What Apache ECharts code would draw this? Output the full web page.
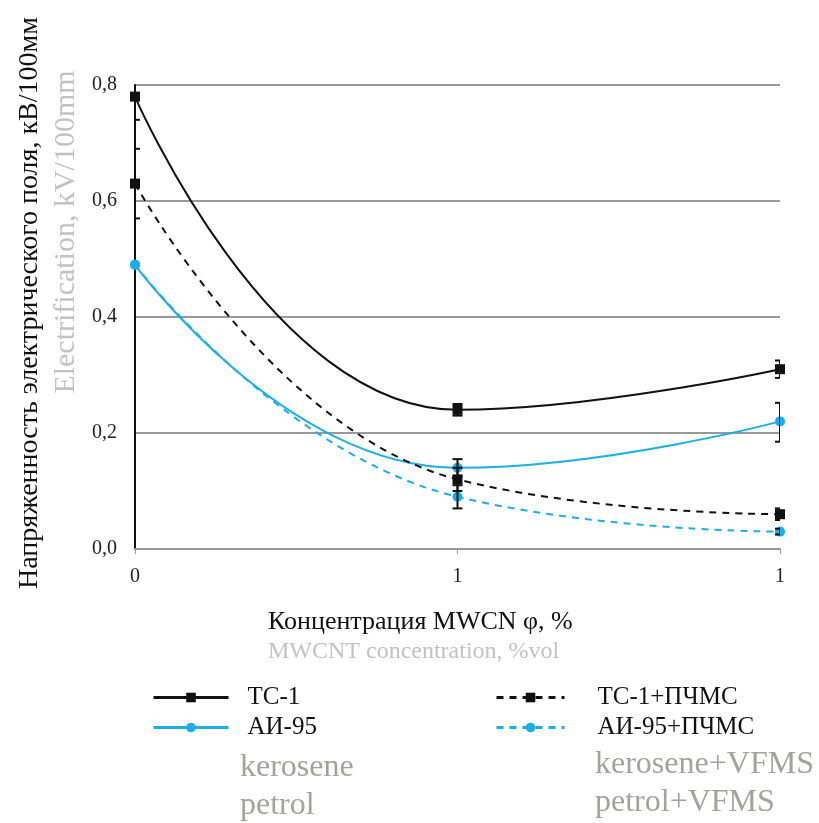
<!DOCTYPE html>
<html><head><meta charset="utf-8">
<script src="https://cdn.jsdelivr.net/npm/echarts@6/dist/echarts.min.js"></script>
<style>html,body{margin:0;padding:0;background:#fff}#c{width:819px;height:823px}</style>
</head><body><div id="c"></div>
<script>
const categories = ['0', '1', '1'];
const yTicks = [0, 0.2, 0.4, 0.6, 0.8];
const ts1 = [0.78, 0.24, 0.31];
const ai95 = [0.49, 0.14, 0.22];
const ts1P = [0.63, 0.12, 0.06];
const ai95P = [0.49, 0.09, 0.03];
const errTs1 = [[0, 0.74, 0.82], [1, 0.23, 0.25], [2, 0.295, 0.325]];
const errTs1P = [[0, 0.57, 0.69], [1, 0.10, 0.14], [2, 0.05, 0.07]];
const errAi95 = [[1, 0.125, 0.155], [2, 0.185, 0.252]];
const errAi95P = [[1, 0.07, 0.11], [2, 0.025, 0.035]];
const names = ['ТС-1', 'АИ-95', 'ТС-1+ПЧМС', 'АИ-95+ПЧМС'];

const BLUE = '#1aaeea';
const SERIF = '"Liberation Serif", "DejaVu Serif", serif';

function errSeries(data) {
  return {
    type: 'custom', data: data, z: 5, silent: true, clip: true,
    renderItem: function (params, api) {
      const x = api.value(0);
      const lo = api.coord([x, api.value(1)]);
      const hi = api.coord([x, api.value(2)]);
      const w = 5;
      const st = { stroke: '#111', lineWidth: 2 };
      return { type: 'group', children: [
        { type: 'line', shape: { x1: lo[0], y1: lo[1], x2: hi[0], y2: hi[1] }, style: st },
        { type: 'line', shape: { x1: lo[0] - w, y1: lo[1], x2: lo[0] + w, y2: lo[1] }, style: st },
        { type: 'line', shape: { x1: hi[0] - w, y1: hi[1], x2: hi[0] + w, y2: hi[1] }, style: st }
      ]};
    }
  };
}

function lineSeries(name, data, color, dashed, symbol) {
  return {
    name: name, type: 'line', data: data, smooth: 0.5, z: 4,
    symbol: symbol, symbolSize: 10,
    lineStyle: { color: color, width: 2, type: dashed ? [7, 6] : 'solid' },
    itemStyle: { color: color }
  };
}

const chart = echarts.init(document.getElementById('c'));
chart.setOption({
  animation: false,
  textStyle: { fontFamily: SERIF },
  grid: { left: 135, right: 39, top: 85, bottom: 274, containLabel: false },
  xAxis: {
    type: 'category', data: categories, boundaryGap: false,
    axisLine: { lineStyle: { color: '#999', width: 2 } },
    axisTick: { show: true, length: 5, lineStyle: { color: '#999' } },
    axisLabel: { color: '#222', fontSize: 20, margin: 18, fontFamily: SERIF }
  },
  yAxis: {
    type: 'value', min: 0, max: 0.8, interval: 0.2,
    axisLine: { show: true, lineStyle: { color: '#111', width: 2 } },
    axisTick: { show: false },
    splitLine: { lineStyle: { color: '#999', width: 2 } },
    axisLabel: { color: '#222', fontSize: 20, margin: 18, fontFamily: SERIF,
      formatter: v => v.toFixed(1).replace('.', ',') }
  },
  legend: [
    { data: [names[0], names[1]], orient: 'vertical', left: 147, top: 680, itemWidth: 75, itemHeight: 12, itemGap: 5,
      lineStyle: { width: 3 },
      textStyle: { fontSize: 25, color: '#111', padding: [0, 0, 0, 14], fontFamily: SERIF } },
    { data: [names[2], names[3]], orient: 'vertical', left: 490, top: 680, itemWidth: 68, itemHeight: 12, itemGap: 5,
      lineStyle: { width: 3 },
      textStyle: { fontSize: 25, color: '#111', padding: [0, 0, 0, 28], fontFamily: SERIF } }
  ],
  graphic: [
    { type: 'text', x: 30, y: 303, rotation: Math.PI / 2,
      style: { text: 'Напряженность электрического поля, кВ/100мм', fill: '#111', font: '28px ' + SERIF, align: 'center', verticalAlign: 'middle' } },
    { type: 'text', x: 66, y: 232, rotation: Math.PI / 2,
      style: { text: 'Electrification, kV/100mm', fill: '#c2c2c2', font: '30px ' + SERIF, align: 'center', verticalAlign: 'middle' } },
    { type: 'text', x: 268, y: 622,
      style: { text: 'Концентрация MWCN φ, %', fill: '#111', font: '26px ' + SERIF, align: 'left', verticalAlign: 'middle' } },
    { type: 'text', x: 268, y: 652,
      style: { text: 'MWCNT concentration, %vol', fill: '#c2c2c2', font: '24px ' + SERIF, align: 'left', verticalAlign: 'middle' } },
    { type: 'text', x: 240, y: 768,
      style: { text: 'kerosene', fill: '#a3a39c', font: '32px ' + SERIF, align: 'left', verticalAlign: 'middle' } },
    { type: 'text', x: 240, y: 806,
      style: { text: 'petrol', fill: '#a3a39c', font: '32px ' + SERIF, align: 'left', verticalAlign: 'middle' } },
    { type: 'text', x: 595, y: 765,
      style: { text: 'kerosene+VFMS', fill: '#a3a39c', font: '32px ' + SERIF, align: 'left', verticalAlign: 'middle' } },
    { type: 'text', x: 595, y: 803,
      style: { text: 'petrol+VFMS', fill: '#a3a39c', font: '32px ' + SERIF, align: 'left', verticalAlign: 'middle' } }
  ],
  series: [
    lineSeries(names[0], ts1, '#111', false, 'rect'),
    lineSeries(names[1], ai95, BLUE, false, 'circle'),
    lineSeries(names[2], ts1P, '#111', true, 'rect'),
    lineSeries(names[3], ai95P, BLUE, true, 'circle'),
    errSeries(errTs1), errSeries(errTs1P), errSeries(errAi95), errSeries(errAi95P)
  ]
});
</script></body></html>
